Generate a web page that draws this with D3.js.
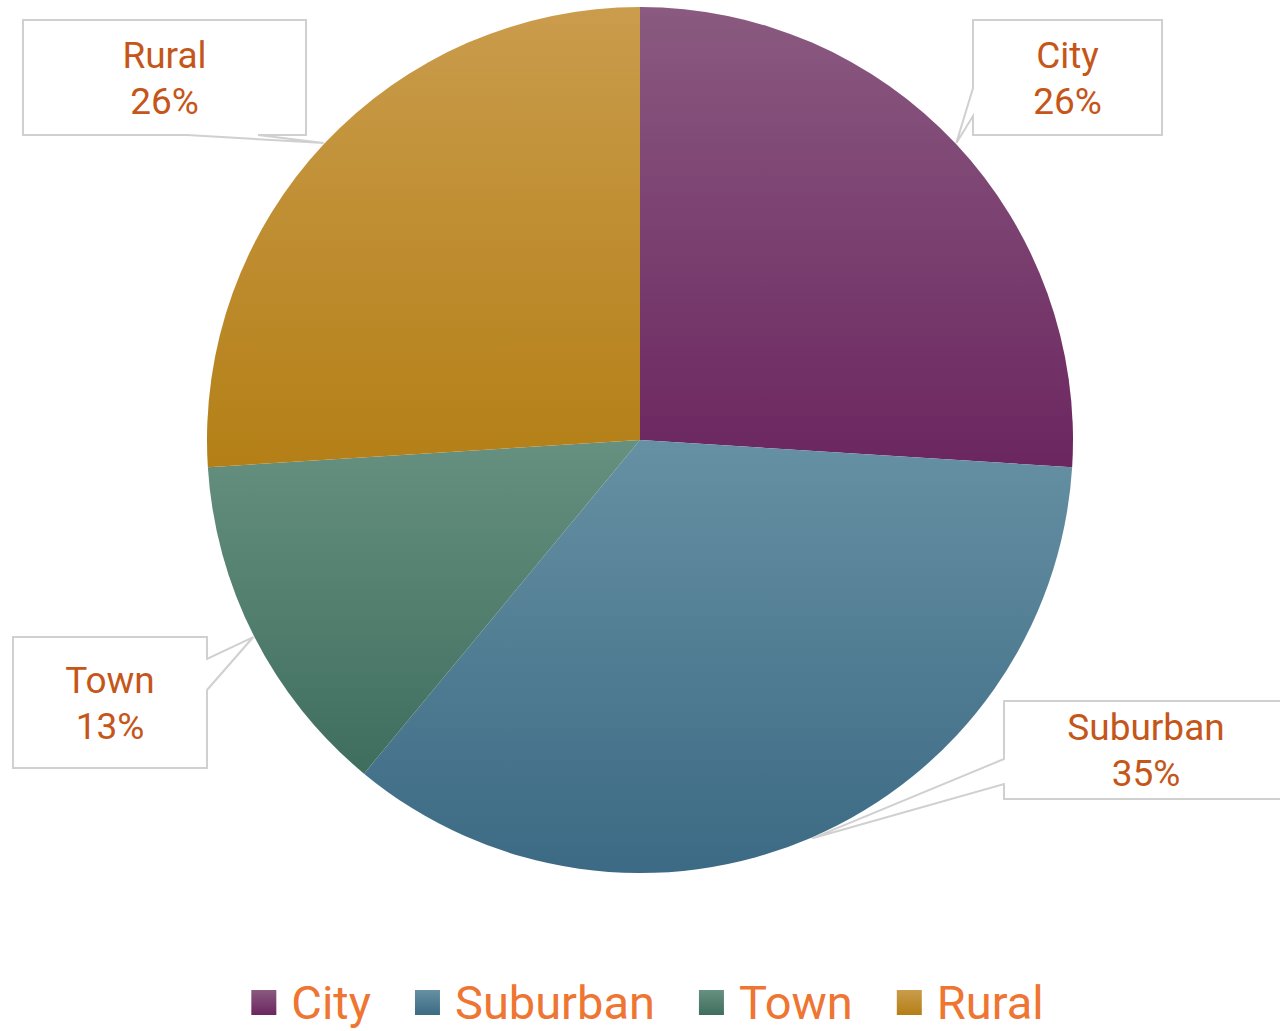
<!DOCTYPE html>
<html>
<head>
<meta charset="utf-8">
<script src="https://cdn.jsdelivr.net/npm/d3@7"></script>
<style>
  html, body { margin: 0; padding: 0; background: #fff; }
  svg { display: block; font-family: Roboto, "Noto Sans", sans-serif; }
</style>
</head>
<body>
<svg id="pieChart" width="1280" height="1031"></svg>
<script>
// chart data
const categories = ["City", "Suburban", "Town", "Rural"];
const shares = [26, 35, 13, 26];
const topColors = ["#8a5a80", "#6690a3", "#66907f", "#ca9c4c"];
const bottomColors = ["#6b2660", "#3c6a84", "#3f6e5e", "#b47f16"];

// callout boxes: [x, y, w, h, notch side, notch a, notch b]
const boxes = [
  {x: 973, y: 20, w: 189, h: 115, side: "left", a: 88, b: 116},
  {x: 1004, y: 701, w: 284, h: 98, side: "left", a: 759, b: 784},
  {x: 13, y: 637, w: 194, h: 131, side: "right", a: 659, b: 690},
  {x: 23, y: 20, w: 283, h: 115, side: "bottom", a: 187, b: 258}
];

function drawChart(){
    const svg = d3.select('#pieChart');
    const cx = 640, cy = 440, r = 433;

    const defs = svg.append("defs");
    categories.forEach((c, i) => {
        const g = defs.append("linearGradient")
            .attr("id", "grad" + i)
            .attr("x1", 0).attr("y1", 0).attr("x2", 0).attr("y2", 1);
        g.append("stop").attr("offset", "0%").attr("stop-color", topColors[i]);
        g.append("stop").attr("offset", "100%").attr("stop-color", bottomColors[i]);
    });

    const pie = d3.pie().sort(null);
    const arc = d3.arc().innerRadius(0).outerRadius(r);
    const total = d3.sum(shares);

    let g = svg.append("g").attr("transform", `translate(${cx},${cy})`);
    const arcs = pie(shares);

    g.selectAll("path")
        .data(arcs)
        .enter()
        .append("path")
        .attr("fill", (d, i) => `url(#grad${i})`)
        .attr("d", arc);

    // callouts
    arcs.forEach((d, i) => {
        const mid = (d.startAngle + d.endAngle) / 2;
        const tx = cx + Math.sin(mid) * (r + 1);
        const ty = cy - Math.cos(mid) * (r + 1);
        const b = boxes[i];
        const x0 = b.x, y0 = b.y, x1 = b.x + b.w, y1 = b.y + b.h;
        let pts;
        if (b.side === "left") {
            pts = [[x0, y0], [x1, y0], [x1, y1], [x0, y1], [x0, b.b], [tx, ty], [x0, b.a]];
        } else if (b.side === "right") {
            pts = [[x0, y0], [x1, y0], [x1, b.a], [tx, ty], [x1, b.b], [x1, y1], [x0, y1]];
        } else {
            pts = [[x0, y0], [x1, y0], [x1, y1], [b.b, y1], [tx, ty], [b.a, y1], [x0, y1]];
        }
        svg.append("path")
            .attr("d", "M" + pts.map(p => p.join(",")).join("L") + "Z")
            .attr("fill", "#fff")
            .attr("stroke", "#d0d0d0")
            .attr("stroke-width", 2);

        const lx = b.x + b.w / 2;
        const ly = b.y + b.h / 2;
        const t = svg.append("text")
            .attr("text-anchor", "middle")
            .attr("font-size", 37)
            .attr("fill", "#c5561a");
        t.append("tspan").attr("x", lx).attr("y", ly - 10).text(categories[i]);
        t.append("tspan").attr("x", lx).attr("y", ly + 36)
            .text(Math.round(d.data / total * 100) + "%");
    });

    // legend
    const legend = svg.append("g");
    let x = 0;
    categories.forEach((c, i) => {
        legend.append("rect")
            .attr("x", x).attr("y", 990)
            .attr("width", 25).attr("height", 25)
            .attr("fill", `url(#grad${i})`);
        const txt = legend.append("text")
            .attr("x", x + 40).attr("y", 1019)
            .attr("font-size", 47)
            .attr("fill", "#ee7532")
            .text(c);
        x += 40 + txt.node().getComputedTextLength() + 44;
    });
    const w = x - 44;
    legend.attr("transform", `translate(${(1295 - w) / 2},0)`);
}

drawChart();
</script>
</body>
</html>
